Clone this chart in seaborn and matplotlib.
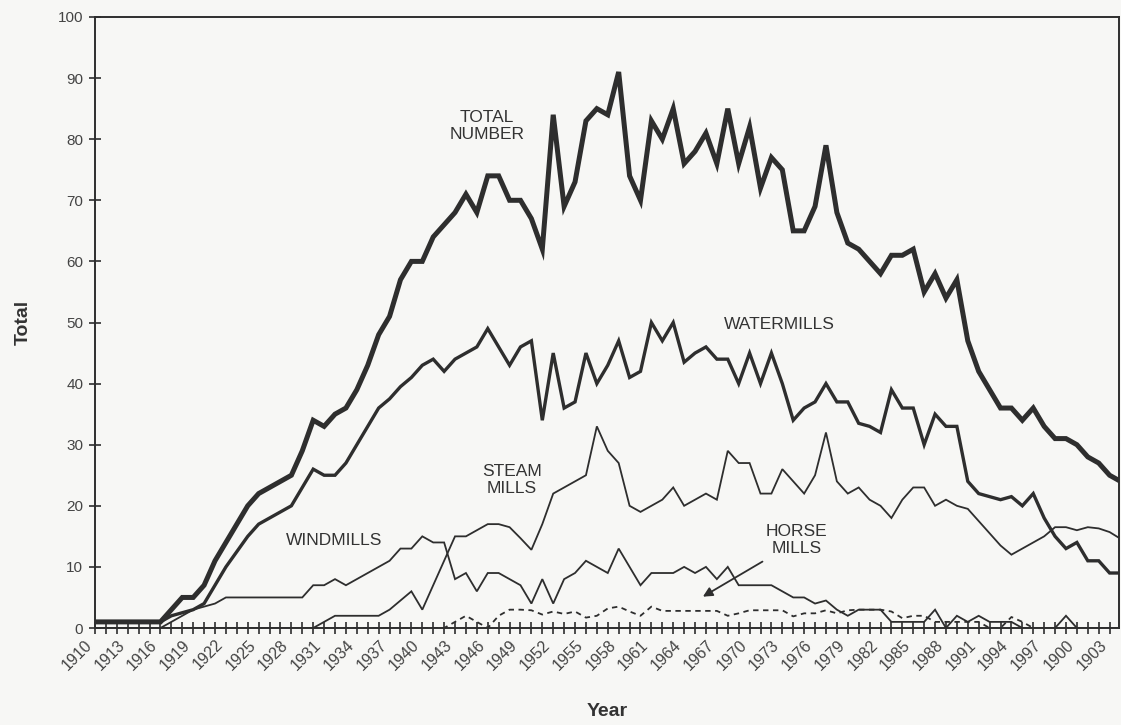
import matplotlib
matplotlib.use("Agg")
import matplotlib.pyplot as plt
import matplotlib.transforms as mtransforms
import numpy as np
import pandas as pd
import seaborn as sns

# === DATA ===
years = list(range(1910, 2005))

total = [1, 1, 1, 1, 1, 1, 1, 3, 5, 5,
         7, 11, 14, 17, 20, 22, 23, 24, 25, 29,
         34, 33, 35, 36, 39, 43, 48, 51, 57, 60,
         60, 64, 66, 68, 71, 68, 74, 74, 70, 70,
         67, 62, 84, 69, 73, 83, 85, 84, 91, 74,
         70, 83, 80, 85, 76, 78, 81, 76, 85, 76,
         82, 72, 77, 75, 65, 65, 69, 79, 68, 63,
         62, 60, 58, 61, 61, 62, 55, 58, 54, 57,
         47, 42, 39, 36, 36, 34, 36, 33, 31, 31,
         30, 28, 27, 25, 24]

watermills = [1, 1, 1, 1, 1, 1, 1, 2, 2.5, 3,
              4, 7, 10, 12.5, 15, 17, 18, 19, 20, 23,
              26, 25, 25, 27, 30, 33, 36, 37.5, 39.5, 41,
              43, 44, 42, 44, 45, 46, 49, 46, 43, 46,
              47, 34, 45, 36, 37, 45, 40, 43, 47, 41,
              42, 50, 47, 50, 43.5, 45, 46, 44, 44, 40,
              45, 40, 45, 40, 34, 36, 37, 40, 37, 37,
              33.5, 33, 32, 39, 36, 36, 30, 35, 33, 33,
              24, 22, 21.5, 21, 21.5, 20, 22, 18, 15, 13,
              14, 11, 11, 9, 9]

steam_mills = [0, 0, 0, 0, 0, 0, 0, 0, 0, 0,
               0, 0, 0, 0, 0, 0, 0, 0, 0, 0,
               0, 1, 2, 2, 2, 2, 2, 3, 4.5, 6,
               3, 7, 11, 15, 15, 16, 17, 17, 16.5, 14.7,
               12.8, 17, 22, 23, 24, 25, 33, 29, 27, 20,
               19, 20, 21, 23, 20, 21, 22, 21, 29, 27,
               27, 22, 22, 26, 24, 22, 25, 32, 24, 22,
               23, 21, 20, 18, 21, 23, 23, 20, 21, 20,
               19.5, 17.5, 15.5, 13.5, 12, 13, 14, 15, 16.5, 16.5,
               16, 16.5, 16.3, 15.7, 14.6]

windmills = [0, 0, 0, 0, 0, 0, 0, 1, 2, 3,
             3.5, 4, 5, 5, 5, 5, 5, 5, 5, 5,
             7, 7, 8, 7, 8, 9, 10, 11, 13, 13,
             15, 14, 14, 8, 9, 6, 9, 9, 8, 7,
             4, 8, 4, 8, 9, 11, 10, 9, 13, 10,
             7, 9, 9, 9, 10, 9, 10, 8, 10, 7,
             7, 7, 7, 6, 5, 5, 4, 4.5, 3, 2,
             3, 3, 3, 1, 1, 1, 1, 3, 0, 2,
             1, 2, 1, 1, 1, 0, 0, 0, 0, 2,
             0, 0, 0, 0, 0]

horse_mills = [0, 0, 0, 0, 0, 0, 0, 0, 0, 0,
               0, 0, 0, 0, 0, 0, 0, 0, 0, 0,
               0, 0, 0, 0, 0, 0, 0, 0, 0, 0,
               0, 0, 0, 1, 2, 1, 0, 2, 3, 3,
               2.9, 2.2, 2.7, 2.3, 2.7, 1.7, 2, 3.2, 3.5, 2.7,
               2, 3.5, 2.8, 2.8, 2.8, 2.8, 2.8, 2.8, 2, 2.4,
               2.9, 2.9, 2.9, 2.9, 1.9, 2.4, 2.4, 2.9, 2.4, 2.9,
               3, 3, 3, 2.7, 1.6, 2, 2, 1, 1, 1,
               1, 1, 0, 0, 1.8, 1, 0, 0, 0, 0,
               0, 0, 0, 0, 0]

tick_years = list(range(1910, 2004))
label_years = list(range(1910, 2004, 3))
label_text = ["1910", "1913", "1916", "1919", "1922", "1925", "1928", "1931",
              "1934", "1937", "1940", "1943", "1946", "1949", "1952", "1955",
              "1958", "1961", "1964", "1967", "1970", "1973", "1976", "1979",
              "1982", "1985", "1988", "1991", "1994", "1997", "1900", "1903"]

# === STYLE ===
sns.set_theme(style="white")
plt.rcParams["font.family"] = ["Liberation Sans", "DejaVu Sans"]

ink = "#2e2e2e"
paper = "#f7f7f5"

fig = plt.figure(figsize=(11.21, 7.25), dpi=100, facecolor=paper)
ax = fig.add_axes([95 / 1121, 1 - 628 / 725, 1024 / 1121, 611 / 725])
ax.set_facecolor(paper)

df = pd.DataFrame({"Year": years, "total": total, "water": watermills,
                   "steam": steam_mills, "wind": windmills, "horse": horse_mills})

series = [
    ("horse", 1.3, (0, (3, 2.5))),
    ("wind", 1.3, "-"),
    ("steam", 1.3, "-"),
    ("water", 2.4, "-"),
    ("total", 3.6, "-"),
]
for col, lw, ls in series:
    sns.lineplot(data=df, x="Year", y=col, ax=ax, color=ink, linewidth=lw,
                 linestyle=ls, solid_joinstyle="miter", legend=False)

ax.set_xlim(1910, 2003.86)
ax.set_ylim(0, 100)

ax.set_yticks(range(0, 101, 10))
ax.set_xticks(tick_years)
ax.set_xticklabels([label_text[label_years.index(y)] if y in label_years else ""
                    for y in tick_years], rotation=45, ha="right")
offset = mtransforms.ScaledTranslation(-0.08, 0, fig.dpi_scale_trans)
for lab in ax.get_xticklabels():
    lab.set_transform(lab.get_transform() + offset)

ax.tick_params(axis="x", direction="inout", length=9, width=1.2, color=ink,
               labelsize=11.5, labelcolor="#444444", pad=2, bottom=True)
ax.tick_params(axis="y", direction="inout", length=9, width=1.2, color=ink,
               labelsize=11, labelcolor="#444444", pad=4, left=True)

for side in ["left", "bottom", "top", "right"]:
    ax.spines[side].set_visible(True)
    ax.spines[side].set_color(ink)
    ax.spines[side].set_linewidth(1.4)

ax.set_ylabel("Total", fontsize=14, fontweight="bold", color="#333333", labelpad=19)
ax.set_xlabel("Year", fontsize=14, fontweight="bold", color="#333333", labelpad=22)

# === LABELS ===
txt = dict(fontsize=12.5, color="#333333", ha="center", va="center", linespacing=1.2)
ax.text(1945.9, 82.2, "TOTAL\nNUMBER", **txt)
ax.text(1972.7, 49.6, "WATERMILLS", **txt)
ax.text(1948.2, 24.2, "STEAM\nMILLS", **txt)
ax.text(1931.9, 14.4, "WINDMILLS", **txt)
ax.text(1974.3, 14.4, "HORSE\nMILLS", **txt)
ax.annotate("", xy=(1965.5, 4.9), xytext=(1971.4, 11.1),
            arrowprops=dict(arrowstyle="-|>", color=ink, lw=1.3, mutation_scale=14))

fig.savefig("out.png", dpi=100, facecolor=paper)
